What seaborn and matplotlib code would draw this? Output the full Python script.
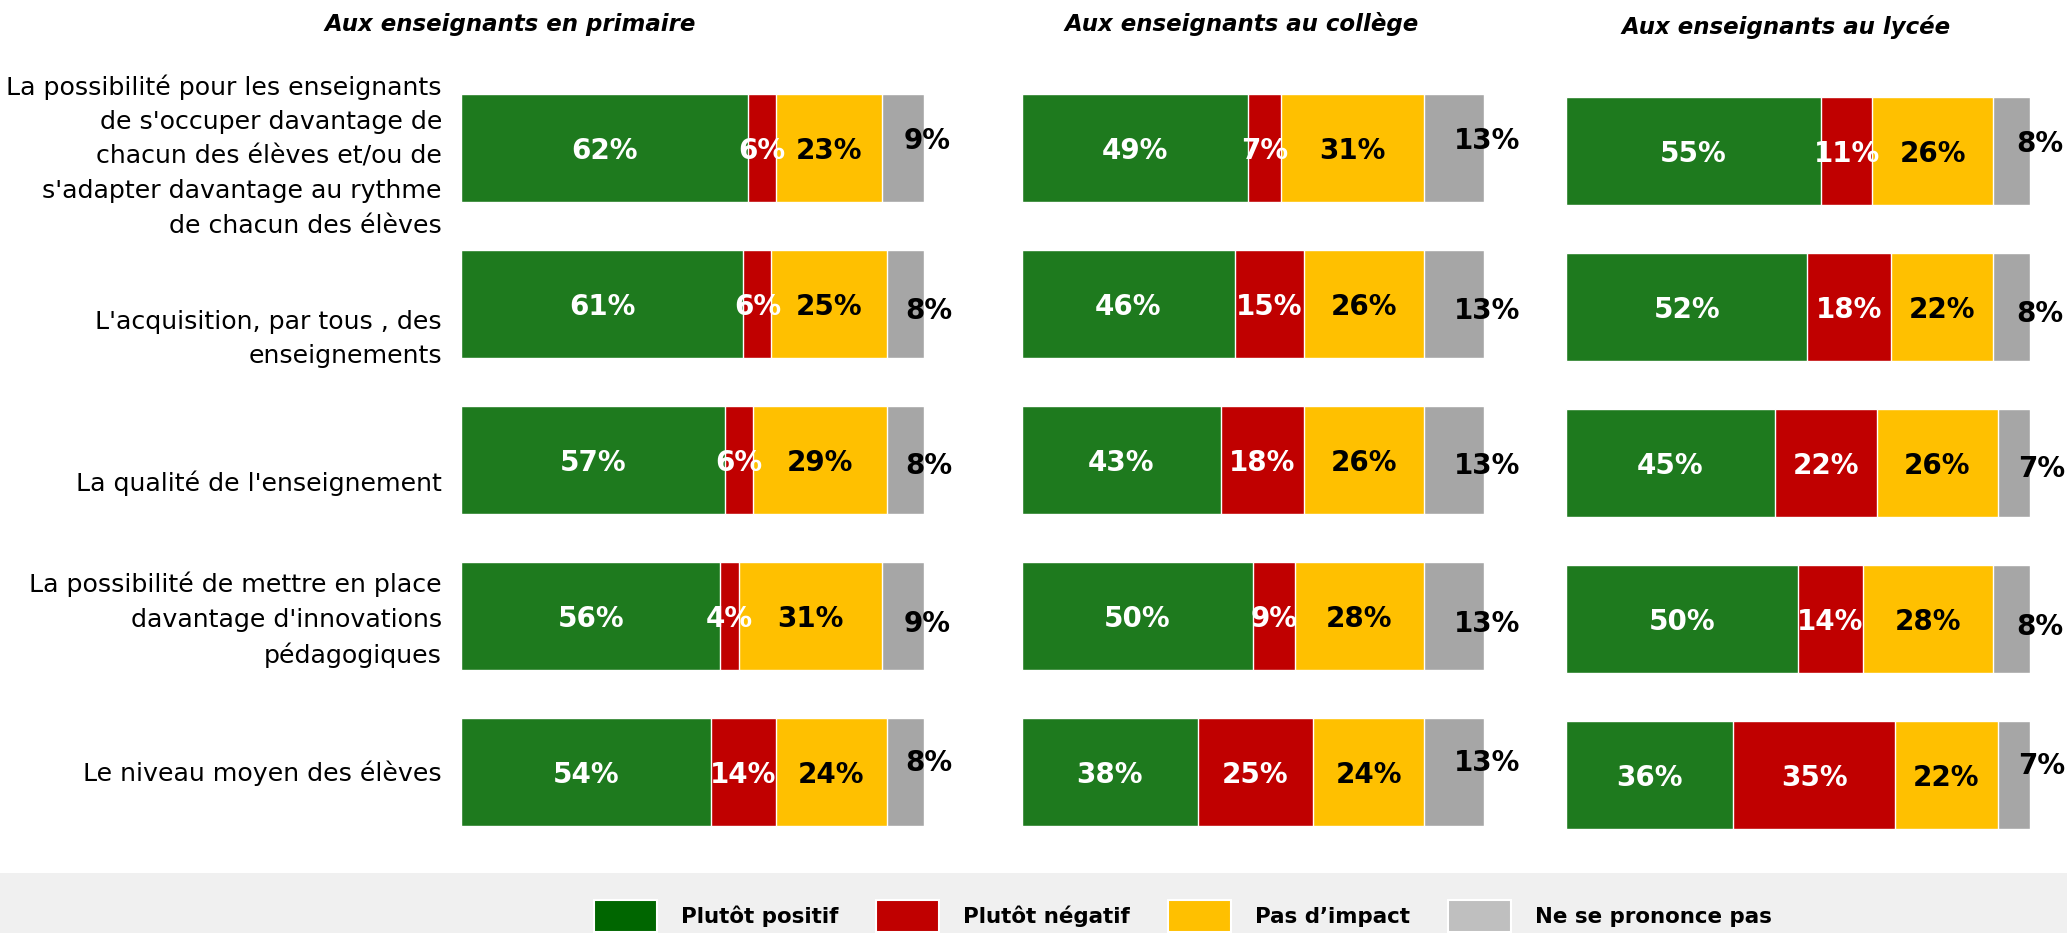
import numpy as np
import seaborn as sns
import matplotlib.pyplot as plt
import matplotlib.transforms as mtransforms
from matplotlib.patches import Patch, Rectangle

# Libellés des lignes
categories = [
    "La possibilité pour les enseignants\nde s'occuper davantage de\nchacun des élèves et/ou de\ns'adapter davantage au rythme\nde chacun des élèves",
    "L'acquisition, par tous , des\nenseignements",
    "La qualité de l'enseignement",
    "La possibilité de mettre en place\ndavantage d'innovations\npédagogiques",
    "Le niveau moyen des élèves",
]
panels = ["Aux enseignants en primaire", "Aux enseignants au collège", "Aux enseignants au lycée"]
series = ["Plutôt positif", "Plutôt négatif", "Pas d\u2019impact", "Ne se prononce pas"]

# Valeurs (%)
primaire_pos = [62, 61, 57, 56, 54]
primaire_neg = [6, 6, 6, 4, 14]
primaire_none = [23, 25, 29, 31, 24]
primaire_nsp = [9, 8, 8, 9, 8]

college_pos = [49, 46, 43, 50, 38]
college_neg = [7, 15, 18, 9, 25]
college_none = [31, 26, 26, 28, 24]
college_nsp = [13, 13, 13, 13, 13]

lycee_pos = [55, 52, 45, 50, 36]
lycee_neg = [11, 18, 22, 14, 35]
lycee_none = [26, 22, 26, 28, 22]
lycee_nsp = [8, 8, 7, 8, 7]

panel_data = [
    [primaire_pos, primaire_neg, primaire_none, primaire_nsp],
    [college_pos, college_neg, college_none, college_nsp],
    [lycee_pos, lycee_neg, lycee_none, lycee_nsp],
]

bar_colors = ['#1e7a1e', '#c00000', '#ffc000', '#a6a6a6']
legend_colors = ['#006600', '#c00000', '#ffc000', '#bfbfbf']
text_colors = ['white', 'white', 'black', 'black']

sns.set_style('white')
plt.rcParams['font.family'] = ['DejaVu Sans']
plt.rcParams['text.color'] = 'black'

W, H = 2067, 933
fig = plt.figure(figsize=(W / 100, H / 100), dpi=100)

# position des panneaux en pixels (gauche, droite, décalage vertical)
panel_px = [(461, 924, 0), (1022, 1484, 0), (1566, 2030, 3)]
title_x = [0.106, 0.476, 0.474]
nsp_dx = [0, 0, 1.0]
nsp_dy = [10, -4, -3, -5, 12]
cat_dy = [-8, -35, -23, -4, -1]

for p, (x0, x1, shift) in enumerate(panel_px):
    ax = fig.add_axes([x0 / W, (83 - shift) / H, (x1 - x0) / W, 780 / H])
    vals = np.array(panel_data[p])
    cum = np.cumsum(vals, axis=0)
    for k in reversed(range(4)):
        sns.barplot(x=cum[k], y=categories, orient='h', color=bar_colors[k],
                    saturation=1, width=0.69, errorbar=None, ax=ax)
    ax.set_xlim(0, 100)
    ax.set_ylim(4.5, -0.5)
    ax.axis('off')

    for k in range(4):
        for i in range(5):
            v = vals[k][i]
            center = cum[k][i] - v / 2
            if k < 3:
                ax.text(center, i, f'{v}%', ha='center', va='center_baseline',
                        color=text_colors[k], fontsize=20, fontweight='bold')
            else:
                tr = mtransforms.offset_copy(ax.transData, fig=fig, x=0, y=nsp_dy[i], units='dots')
                ax.text(center + nsp_dx[p], i, f'{v}%', ha='left', va='center_baseline',
                        color=text_colors[k], fontsize=20, fontweight='bold', transform=tr)

    ax.text(title_x[p], 1 + 46 / 780, panels[p], transform=ax.transAxes,
            ha='center', va='center', fontsize=16.5, fontweight='bold', fontstyle='italic')

    if p == 0:
        for i, cat in enumerate(categories):
            tr = mtransforms.offset_copy(ax.transData, fig=fig, x=0, y=cat_dy[i], units='dots')
            ax.text(-19 / 463 * 100, i, cat, ha='right', va='center', fontsize=18.2,
                    linespacing=1.55, transform=tr, clip_on=False)

# bandeau de légende
fig.add_artist(Rectangle((0, 0), 1, 60 / H, transform=fig.transFigure,
                         facecolor='#f0f0f0', edgecolor='none', zorder=0))
handles = [Patch(facecolor=c, edgecolor='white', linewidth=1.5) for c in legend_colors]
leg = fig.legend(handles=handles, labels=series, ncol=4, loc='upper left',
                 bbox_to_anchor=(594 / W, 33 / H), frameon=False,
                 prop={'size': 15.4, 'weight': 'bold'}, handlelength=2.94, handleheight=1.9,
                 handletextpad=1.12, columnspacing=1.78, borderpad=0, borderaxespad=0)

fig.savefig('out.png', dpi=100)
